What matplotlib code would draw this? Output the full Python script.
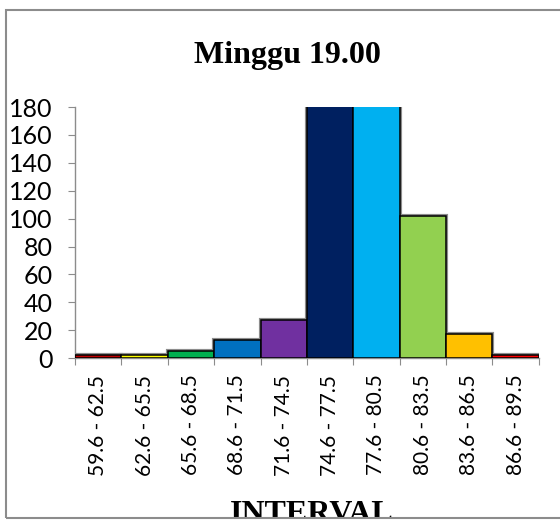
import numpy as np
import matplotlib.pyplot as plt
from matplotlib.patches import Rectangle

intervals = ["59.6 - 62.5", "62.6 - 65.5", "65.6 - 68.5", "68.6 - 71.5", "71.6 - 74.5",
             "74.6 - 77.5", "77.6 - 80.5", "80.6 - 83.5", "83.6 - 86.5", "86.6 - 89.5"]
counts = [2, 2, 5, 13, 27, 236, 214, 102, 17, 2]
colors = ["#C00000", "#FFFF00", "#00B050", "#0070C0", "#7030A0",
          "#002060", "#00B0F0", "#92D050", "#FFC000", "#FF0000"]
yticks = [0, 20, 40, 60, 80, 100, 120, 140, 160, 180]

fig = plt.figure(figsize=(5.6, 5.25), dpi=100)
ax = fig.add_axes([0.134, 0.318, 0.828, 0.478])

x = np.arange(len(counts))
# double outline: grey halo under a thin black border
ax.bar(x, counts, width=1.0, color=colors, edgecolor="#8c8c8c", linewidth=3.0, zorder=2)
ax.bar(x, counts, width=1.0, color=colors, edgecolor="black", linewidth=1.1, zorder=3)

ax.set_xlim(-0.5, len(counts) - 0.5)
ax.set_ylim(0, 180)
ax.set_yticks(yticks)
ax.set_yticklabels([str(v) for v in yticks], fontfamily="Lato", fontsize=18)
ax.tick_params(axis="y", direction="out", length=5, color="#8c8c8c", pad=11)

# tick marks on bin edges, labels on bin centres
ax.set_xticks(np.arange(len(counts) + 1) - 0.5)
ax.set_xticklabels([])
ax.tick_params(axis="x", which="major", direction="out", length=5, color="#8c8c8c")
ax.set_xticks(x, minor=True)
ax.set_xticklabels(intervals, minor=True, rotation=90, fontfamily="Lato", fontsize=15)
ax.tick_params(axis="x", which="minor", length=0, pad=12)

for side in ["top", "right"]:
    ax.spines[side].set_visible(False)
for side in ["left", "bottom"]:
    ax.spines[side].set_color("#8c8c8c")
    ax.spines[side].set_linewidth(1.0)

fig.text(0.513, 0.895, "Minggu 19.00", ha="center", va="center",
         fontfamily="Liberation Serif", fontweight="bold", fontsize=23)
fig.text(0.557, 0.006, "INTERVAL", ha="center", va="baseline",
         fontfamily="Liberation Serif", fontweight="bold", fontsize=23)

# chart frame: the area below the bottom border stays blank
fig.add_artist(Rectangle((0, 0), 1, 7 / 525, transform=fig.transFigure,
                         facecolor="white", edgecolor="none", zorder=10))
fig.add_artist(Rectangle((6 / 560, 7 / 525), 1.0, 508 / 525, transform=fig.transFigure,
                         facecolor="none", edgecolor="#8c8c8c", linewidth=1.5, zorder=11))

fig.savefig("out.png", dpi=100)
